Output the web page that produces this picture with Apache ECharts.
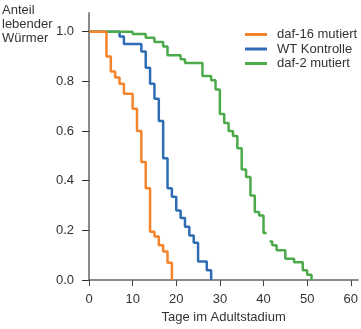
<!DOCTYPE html>
<html>
<head>
<meta charset="utf-8">
<script src="https://cdn.jsdelivr.net/npm/echarts@6/dist/echarts.min.js"></script>
<style>
    html, body {margin: 0; padding: 0; background: #fff;}
    #chart {width: 361px; height: 329px;}
</style>
</head>
<body>
<div id="chart"></div>
<script>
// Kaplan-Meier Stufen: Tag, ab dem der Anteil gilt
var daf16Days = [0, 4, 5, 6, 7, 8, 10, 11, 12, 13, 14, 15, 16, 17, 18, 19];
var daf16Surv = [1.0, 0.90, 0.84, 0.815, 0.79, 0.75, 0.69, 0.60, 0.475, 0.37, 0.195, 0.175, 0.14, 0.115, 0.07, 0.0];

var wtDays = [0, 7, 8, 12, 13, 14, 15, 16, 17, 18, 19, 20, 21, 22, 23, 24, 25, 27, 28];
var wtSurv = [1.0, 0.98, 0.95, 0.92, 0.855, 0.79, 0.73, 0.64, 0.49, 0.37, 0.335, 0.28, 0.25, 0.215, 0.18, 0.15, 0.075, 0.04, 0.0];

// null = Lücke in der Kurve
var daf2Days = [0, 10, 13, 15, 17, 18, 21, 22, 26, 28, 29, 30, 31, 32, 33, 34, 35, 36, 37, 38, 39, 40, 40.7, 41.4, 42, 43, 45, 47, 49, 50, 51];
var daf2Surv = [1.0, 0.99, 0.975, 0.958, 0.94, 0.905, 0.889, 0.874, 0.821, 0.804, 0.767, 0.669, 0.632, 0.60, 0.58, 0.531, 0.445, 0.415, 0.34, 0.274, 0.26, 0.19, null, 0.155, 0.14, 0.12, 0.086, 0.072, 0.04, 0.022, 0.0];

var seriesNames = ['daf-16 mutiert', 'WT Kontrolle', 'daf-2 mutiert'];
var xTicks = [0, 10, 20, 30, 40, 50, 60];
var yTicks = [0, 0.2, 0.4, 0.6, 0.8, 1.0];

function toPoints(days, surv) {
    return days.map(function (d, i) {
        return [d, surv[i] === null ? '-' : surv[i]];
    });
}

var fontFamily = '"Liberation Sans", Arial, sans-serif';
var txt = {color: '#333', fontSize: 13, fontFamily: fontFamily};

function stepSeries(name, color, data) {
    return {
        name: name,
        type: 'line',
        step: 'end',
        symbol: 'none',
        showSymbol: false,
        connectNulls: false,
        data: data,
        itemStyle: {color: color},
        lineStyle: {color: color, width: 2.5}
    };
}

var myChart = echarts.init(document.getElementById('chart'), null, {renderer: 'canvas'});

var option = {
    animation: false,
    backgroundColor: '#fff',
    title: {
        text: 'Anteil\nlebender\nWürmer',
        left: 2,
        top: 3,
        padding: 0,
        textStyle: {color: '#333', fontSize: 13, fontWeight: 'normal', fontFamily: fontFamily, lineHeight: 14}
    },
    legend: {
        data: seriesNames.map(function (n) { return {name: n, icon: 'rect'}; }),
        orient: 'vertical',
        left: 245,
        top: 28,
        padding: 0,
        itemGap: 1.5,
        itemWidth: 22,
        itemHeight: 3,
        textStyle: {color: '#333', fontSize: 13, fontFamily: fontFamily, padding: [0, 0, 0, 5]}
    },
    grid: {left: 89, right: 0, top: 13, bottom: 44, containLabel: false},
    xAxis: {
        type: 'value',
        min: 0,
        max: 61.7,
        name: 'Tage im Adultstadium',
        nameLocation: 'middle',
        nameGap: 30,
        nameTextStyle: txt,
        axisLine: {lineStyle: {color: '#666', width: 1.5}},
        axisTick: {show: true, length: 6, lineStyle: {color: '#444'}, customValues: xTicks},
        axisLabel: Object.assign({margin: 13, customValues: xTicks}, txt),
        splitLine: {show: false}
    },
    yAxis: {
        type: 'value',
        min: 0,
        max: 1.075,
        axisLine: {show: true, lineStyle: {color: '#8a8a8a', width: 2}},
        axisTick: {show: true, length: 7, lineStyle: {color: '#333'}, customValues: yTicks},
        axisLabel: Object.assign({
            margin: 15,
            customValues: yTicks,
            formatter: function (v) { return v.toFixed(1); }
        }, txt),
        splitLine: {show: false}
    },
    series: [
        stepSeries('WT Kontrolle', '#2E6DB4', toPoints(wtDays, wtSurv)),
        stepSeries('daf-2 mutiert', '#4DAA4B', toPoints(daf2Days, daf2Surv)),
        stepSeries('daf-16 mutiert', '#F4832A', toPoints(daf16Days, daf16Surv))
    ]
};

myChart.setOption(option, true);
</script>
</body>
</html>
